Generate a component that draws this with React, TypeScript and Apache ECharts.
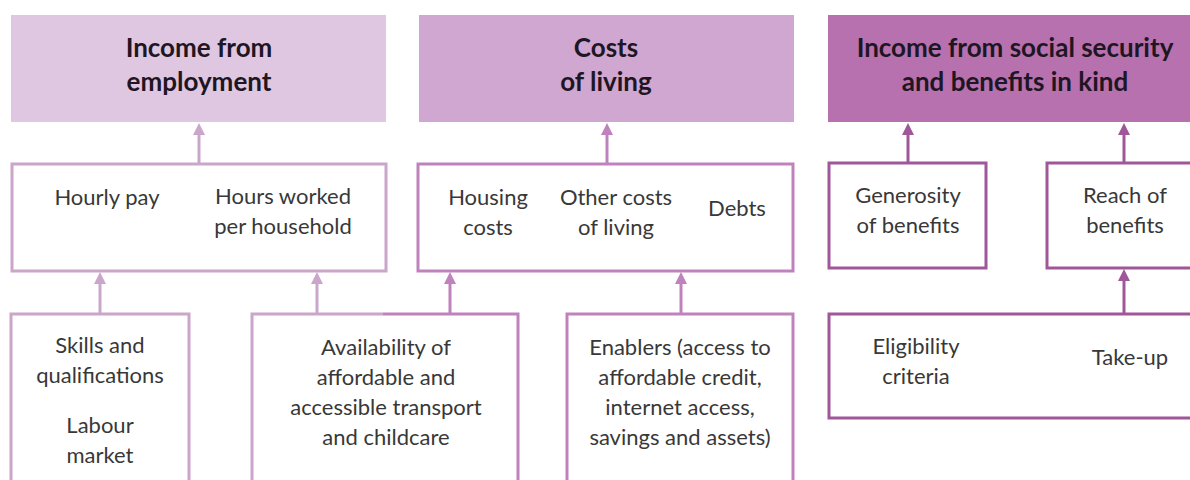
import React, { useEffect, useRef } from "react";
import * as echarts from "echarts";

// ---- Text content of the diagram ----
const TOP_TITLES: string[][] = [
  ["Income from", "employment"],
  ["Costs", "of living"],
  ["Income from social security", "and benefits in kind"],
];
const MIDDLE_LABELS: string[][] = [
  ["Hourly pay"],
  ["Hours worked", "per household"],
  ["Housing", "costs"],
  ["Other costs", "of living"],
  ["Debts"],
  ["Generosity", "of benefits"],
  ["Reach of", "benefits"],
];
const BOTTOM_LABELS: string[][] = [
  ["Skills and", "qualifications"],
  ["Labour", "market"],
  ["Availability of", "affordable and", "accessible transport", "and childcare"],
  ["Enablers (access to", "affordable credit,", "internet access,", "savings and assets)"],
  ["Eligibility", "criteria"],
  ["Take-up"],
];

// ---- Layout & styles ----
const FONT = "Lato";
const C_LIGHT = "#c9a6ca";
const C_MID = "#bf82bc";
const C_DARK = "#a0579a";
const TEXT_DARK = "#1f1624";
const TEXT = "#383838";
const TOP_FILLS = ["#dfc7e1", "#cfa7d1", "#b671ae"];

const TOP_BOXES = [
  { x: 11, w: 375 },
  { x: 419, w: 375 },
  { x: 828, w: 380 },
];
const TOP_TITLE_POS = [
  { x: 199, y: 64 },
  { x: 606, y: 64 },
  { x: 1015, y: 64 },
];

const MID_BOXES = [
  { x: 12, y: 164, w: 374, h: 107, c: C_LIGHT },
  { x: 418, y: 164, w: 375, h: 107, c: C_MID },
  { x: 829, y: 163, w: 157, h: 105, c: C_DARK },
  { x: 1047, y: 163, w: 160, h: 105, c: C_DARK },
];
const MID_TEXT_POS = [
  { x: 107, y: 196 },
  { x: 283, y: 210 },
  { x: 488, y: 211 },
  { x: 616, y: 211 },
  { x: 737, y: 207 },
  { x: 908, y: 209 },
  { x: 1125, y: 209 },
];

const BOTTOM_TEXT_POS = [
  { x: 100, y: 359 },
  { x: 100, y: 439 },
  { x: 386, y: 391 },
  { x: 680, y: 391 },
  { x: 916, y: 360 },
  { x: 1130, y: 356 },
];

// arrows: x, from y (bottom), to y (tip), colour
const ARROWS = [
  { x: 199, y1: 164, y2: 122, c: C_LIGHT },
  { x: 607, y1: 164, y2: 122, c: C_MID },
  { x: 908, y1: 163, y2: 122, c: C_DARK },
  { x: 1124, y1: 163, y2: 122, c: C_DARK },
  { x: 100, y1: 314, y2: 271, c: C_LIGHT },
  { x: 317, y1: 314, y2: 271, c: C_LIGHT },
  { x: 450, y1: 314, y2: 271, c: C_MID },
  { x: 681, y1: 314, y2: 271, c: C_MID },
  { x: 1124, y1: 314, y2: 268, c: C_DARK },
];

function textEl(lines: string[], x: number, y: number, bold: boolean) {
  return {
    type: "text",
    z: 10,
    style: {
      text: lines.join("\n"),
      x,
      y,
      align: "center",
      verticalAlign: "middle",
      fontFamily: FONT,
      fontSize: bold ? 26 : 22,
      fontWeight: bold ? "bold" : "normal",
      lineHeight: bold ? 34 : 30,
      fill: bold ? TEXT_DARK : TEXT,
    },
  };
}

export default function App() {
  const ref = useRef<HTMLDivElement>(null);
  useEffect(() => {
    if (!ref.current) return;
    const chart = echarts.init(ref.current, undefined, { renderer: "svg" });
    const els: any[] = [];

    TOP_BOXES.forEach((b, i) => {
      els.push({
        type: "rect",
        shape: { x: b.x, y: 15, width: b.w, height: 107 },
        style: { fill: TOP_FILLS[i] },
      });
      els.push(textEl(TOP_TITLES[i], TOP_TITLE_POS[i].x, TOP_TITLE_POS[i].y, true));
    });

    MID_BOXES.forEach((b) => {
      els.push({
        type: "rect",
        shape: { x: b.x, y: b.y, width: b.w, height: b.h },
        style: { fill: "#fff", stroke: b.c, lineWidth: 3 },
      });
    });
    MIDDLE_LABELS.forEach((l, i) => {
      els.push(textEl(l, MID_TEXT_POS[i].x, MID_TEXT_POS[i].y, false));
    });

    // bottom boxes
    els.push({
      type: "polyline",
      shape: { points: [[11, 500], [11, 314], [189, 314], [189, 500]] },
      style: { stroke: C_LIGHT, lineWidth: 3, fill: null },
    });
    els.push({
      type: "polyline",
      shape: { points: [[383, 314], [252, 314], [252, 500]] },
      style: { stroke: C_LIGHT, lineWidth: 3, fill: null },
    });
    els.push({
      type: "polyline",
      shape: { points: [[383, 314], [518, 314], [518, 500]] },
      style: { stroke: C_MID, lineWidth: 3, fill: null },
    });
    els.push({
      type: "polyline",
      shape: { points: [[567, 500], [567, 314], [793, 314], [793, 500]] },
      style: { stroke: C_MID, lineWidth: 3, fill: null },
    });
    els.push({
      type: "rect",
      shape: { x: 829, y: 314, width: 380, height: 104 },
      style: { fill: "#fff", stroke: C_DARK, lineWidth: 3 },
    });
    BOTTOM_LABELS.forEach((l, i) => {
      els.push(textEl(l, BOTTOM_TEXT_POS[i].x, BOTTOM_TEXT_POS[i].y, false));
    });

    ARROWS.forEach((a) => {
      els.push({
        type: "line",
        z: 5,
        shape: { x1: a.x, y1: a.y1, x2: a.x, y2: a.y2 + 10 },
        style: { stroke: a.c, lineWidth: 3 },
      });
      els.push({
        type: "polygon",
        z: 6,
        shape: { points: [[a.x, a.y2 + 1], [a.x - 6, a.y2 + 13], [a.x + 6, a.y2 + 13]] },
        style: { fill: a.c },
      });
    });

    chart.setOption({
      animation: false,
      backgroundColor: "#ffffff",
      graphic: { elements: els },
    });
    return () => chart.dispose();
  }, []);
  return (
    <div
      ref={ref}
      style={{ position: "absolute", left: 0, top: 0, width: 1190, height: 480 }}
    />
  );
}
